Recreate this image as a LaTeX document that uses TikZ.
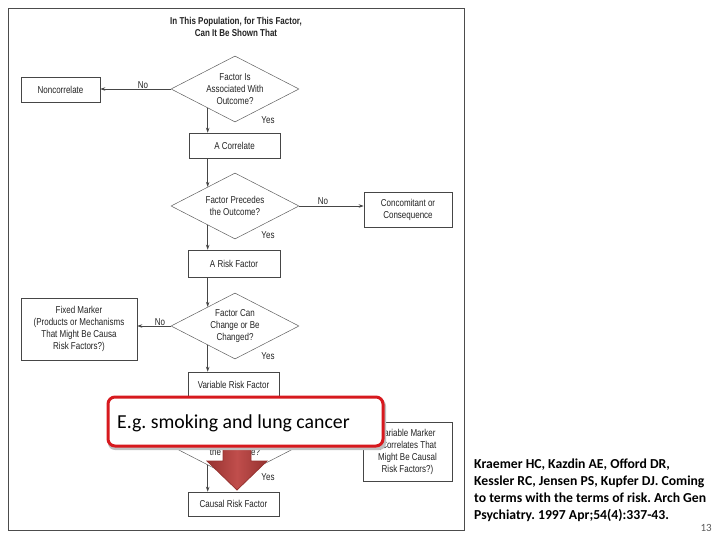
\documentclass[tikz,border=0pt]{standalone}
\usepackage{fontspec}
\setmainfont{Liberation Sans}
\newfontfamily\narfont{Liberation Sans}[FakeStretch=0.8]
\newfontfamily\calfont{Carlito}
\frenchspacing
\usetikzlibrary{shapes.geometric,arrows.meta,calc}
\definecolor{ink}{RGB}{35,35,35}
\definecolor{linec}{RGB}{70,70,70}
\definecolor{calloutred}{RGB}{215,25,30}
\definecolor{arrowfill}{RGB}{192,78,76}
\definecolor{arrowedge}{RGB}{150,50,48}
\definecolor{pagenum}{RGB}{90,90,90}
\tikzset{
  flowbox/.style={draw=linec,line width=0.6pt,fill=white,inner sep=0pt,align=center,
    text=ink,font=\narfont\fontsize{10}{12}\selectfont},
  decision/.style={diamond,draw=gray!75!black,line width=0.5pt,inner sep=0pt,
    minimum width=128pt,minimum height=66pt},
  dtext/.style={inner sep=0pt,align=center,text=ink,font=\narfont\fontsize{10}{12}\selectfont},
  lbl/.style={inner sep=0pt,text=ink,font=\narfont\fontsize{10}{12}\selectfont},
  arr/.style={draw=linec,line width=0.7pt,-{Stealth[length=5pt,width=3.5pt]}},
  cite/.style={anchor=base west,inner sep=0pt,text=black,font=\calfont\bfseries\fontsize{13.7}{17}\selectfont},
}
\begin{document}
\begin{tikzpicture}[x=1pt,y=-1pt]
\useasboundingbox (0,0) rectangle (720,540);
% frame
\draw[line width=0.8pt,draw=gray!60!black] (8,8) rectangle (464,530);
% title
\node[inner sep=0pt,align=center,text=ink,font=\narfont\bfseries\fontsize{10}{12}\selectfont] (title) at (236,27)
  {In This Population, for This Factor,\\Can It Be Shown That};
% level 1
\node[decision] (d1) at (235,89) {};
\node[dtext] (t1) at (d1.center) {Factor Is\\Associated With\\Outcome?};
\node[flowbox,minimum width=79pt,minimum height=25pt] (nc) at (60.5,90) {Noncorrelate};
\node[lbl] (no1) at (143,85) {No};
\node[lbl] (yes1) at (268,120) {Yes};
\node[flowbox,minimum width=91pt,minimum height=25pt] (cor) at (234.5,145.5) {A Correlate};
% level 2
\node[decision] (d2) at (235,206) {};
\node[dtext] (t2) at (d2.center) {Factor Precedes\\the Outcome?};
\node[flowbox,minimum width=88pt,minimum height=35pt] (con) at (408,210) {Concomitant or\\Consequence};
\node[lbl] (no2) at (323,201) {No};
\node[lbl] (yes2) at (268,235) {Yes};
\node[flowbox,minimum width=92pt,minimum height=27pt] (rf) at (234,263.5) {A Risk Factor};
% level 3
\node[decision] (d3) at (235,326) {};
\node[dtext] (t3) at (d3.center) {Factor Can\\Change or Be\\Changed?};
\node[flowbox,minimum width=116pt,minimum height=62pt] (fm) at (79,329) {Fixed Marker\\(Products or Mechanisms\\That Might Be Causa\\Risk Factors?)};
\node[lbl] (no3) at (160,322) {No};
\node[lbl] (yes3) at (268,356) {Yes};
\node[flowbox,minimum width=91pt,minimum height=25pt] (vrf) at (233.5,384.5) {Variable Risk Factor};
% level 4
\node[decision] (d4) at (235,446) {};
\node[dtext] (t4) at (d4.center) {Factor Precedes\\the Outcome?};
\node[flowbox,minimum width=89pt,minimum height=59pt] (vm) at (407.5,451.5) {Variable Marker\\(Correlates That\\Might Be Causal\\Risk Factors?)};
\node[lbl] (yes4) at (268,477) {Yes};
\node[flowbox,minimum width=91pt,minimum height=24pt] (crf) at (233.5,504) {Causal Risk Factor};
% connectors
\draw[arr] (d1.west) -- (d1.west -| nc.east);
\draw[arr] (d1.215) -- (d1.215 |- cor.north);
\draw[arr] (d2.145 |- cor.south) -- (d2.145);
\draw[arr] (d2.east) -- (d2.east -| con.west);
\draw[arr] (d2.215) -- (d2.215 |- rf.north);
\draw[arr] (d3.145 |- rf.south) -- (d3.145);
\draw[arr] (d3.west) -- (d3.west -| fm.east);
\draw[arr] (d3.215) -- (d3.215 |- vrf.north);
\draw[arr] (d4.145 |- vrf.south) -- (d4.145);
\draw[arr] (d4.east) -- (d4.east -| vm.west);
\draw[arr] (d4.215) -- (d4.215 |- crf.north);
% red block arrow
\path[draw=arrowedge,line width=0.8pt,left color=arrowedge,right color=arrowedge,middle color=arrowfill,line join=miter]
  (223,430) -- (251,430) -- (251,461) -- (267,461) -- (237,490) -- (207,461) -- (223,461) -- cycle;
% callout shadow and callout
\fill[black!25,rounded corners=7pt] (108,399) rectangle (386,450);
\node[draw=calloutred,line width=3pt,fill=white,rounded corners=7pt,
  minimum width=275pt,minimum height=49pt,inner sep=0pt] (callout) at (245.5,421.5) {};
\node[anchor=west,inner sep=0pt,font=\calfont\fontsize{19.8}{22}\selectfont,text=black] (eg) at (117,423)
  {E.g. smoking and lung cancer};
% citation
\node[cite] (c1) at (474,468) {Kraemer HC, Kazdin AE, Offord DR,};
\node[cite] (c2) at (474,485) {Kessler RC, Jensen PS, Kupfer DJ. Coming};
\node[cite] (c3) at (474,502) {to terms with the terms of risk. Arch Gen};
\node[cite] (c4) at (474,519) {Psychiatry. 1997 Apr;54(4):337-43.};
\node[anchor=base east,inner sep=0pt,text=pagenum,font=\calfont\fontsize{11}{13}\selectfont] (pg) at (712,531) {13};
\end{tikzpicture}
\end{document}
